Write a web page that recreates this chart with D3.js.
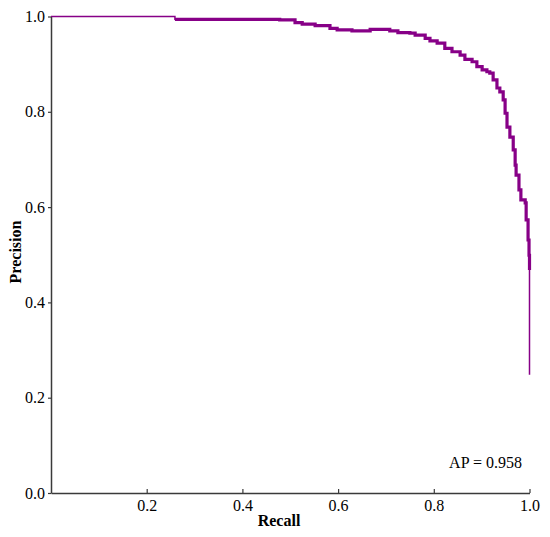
<!DOCTYPE html>
<html>
<head>
<meta charset="utf-8">
<script src="https://cdn.jsdelivr.net/npm/d3@7"></script>
<style>
  html, body { margin: 0; padding: 0; background: #fff; }
  svg { display: block; }
  text { font-family: "Liberation Serif", "Times New Roman", serif; }
</style>
</head>
<body>
<svg id="chart" width="550" height="537"></svg>
<script>
// ---- data ----
const recall = [0.000, 0.259, 0.478, 0.510, 0.525, 0.552, 0.583, 0.598, 0.629, 0.667,
                0.708, 0.725, 0.750, 0.761, 0.782, 0.792, 0.807, 0.823, 0.838, 0.855,
                0.865, 0.880, 0.890, 0.901, 0.911, 0.917, 0.924, 0.932, 0.938, 0.945,
                0.949, 0.953, 0.959, 0.966, 0.970, 0.972, 0.978, 0.982, 0.991, 0.993,
                0.997, 0.999, 1.000, 1.000];
const precision = [1.000, 0.994, 0.993, 0.987, 0.984, 0.981, 0.975, 0.972, 0.970, 0.973,
                   0.970, 0.966, 0.965, 0.961, 0.954, 0.949, 0.944, 0.933, 0.926, 0.919,
                   0.910, 0.905, 0.895, 0.888, 0.884, 0.881, 0.867, 0.850, 0.842, 0.825,
                   0.797, 0.768, 0.747, 0.720, 0.688, 0.667, 0.636, 0.615, 0.609, 0.573,
                   0.531, 0.499, 0.468, 0.248];
const xTicks = [0.2, 0.4, 0.6, 0.8, 1.0];
const yTicks = [0.0, 0.2, 0.4, 0.6, 0.8, 1.0];
const apLabel = "AP = 0.958";
const xLabel = "Recall";
const yLabel = "Precision";

// ---- layout ----
const svg = d3.select("#chart");
const x = d3.scaleLinear().domain([0, 1]).range([51, 529.5]);
const y = d3.scaleLinear().domain([0, 1]).range([493, 16.5]);
const color = "#870087";
const axisColor = "#3a3a3a";
const serif = '"Liberation Serif", "Times New Roman", serif';

const pts = recall.map((r, i) => [r, precision[i]]);
const line = d3.line().x(d => x(d[0])).y(d => y(d[1])).curve(d3.curveStepAfter);

// thin full curve
svg.append("path")
  .attr("d", line(pts))
  .attr("fill", "none")
  .attr("stroke", color)
  .attr("stroke-width", 1.5);

// thick middle (dense zigzag region)
svg.append("path")
  .attr("d", line(pts.slice(1, pts.length - 1)))
  .attr("fill", "none")
  .attr("stroke", color)
  .attr("stroke-width", 3.2);

// axes
const xAxis = d3.axisBottom(x).tickValues(xTicks).tickFormat(d3.format(".1f")).tickSizeInner(-4).tickSizeOuter(0).tickPadding(7);
const gx = svg.append("g").attr("transform", `translate(0,${y(0)})`).call(xAxis);
const yAxis = d3.axisLeft(y).tickValues(yTicks).tickFormat(d3.format(".1f")).tickSizeInner(3).tickSizeOuter(0).tickPadding(3);
const gy = svg.append("g").attr("transform", `translate(${x(0)},0)`).call(yAxis);

[gx, gy].forEach(g => {
  g.attr("font-family", serif).attr("font-size", 16);
  g.select(".domain").attr("stroke", axisColor).attr("stroke-width", 1.5);
  g.selectAll(".tick line").attr("stroke", axisColor).attr("stroke-width", 1.2);
  g.selectAll(".tick text")
    .attr("fill", "#000")
    .style("font-family", serif)
    .style("font-size", "16px");
});

// axis labels
svg.append("text")
  .attr("x", 279).attr("y", 526)
  .attr("text-anchor", "middle")
  .style("font-size", "16px").style("font-weight", "bold")
  .text(xLabel);

svg.append("text")
  .attr("transform", `translate(21,252) rotate(-90)`)
  .attr("text-anchor", "middle")
  .style("font-size", "16px").style("font-weight", "bold")
  .text(yLabel);

// AP annotation
svg.append("text")
  .attr("x", 522).attr("y", 468)
  .attr("text-anchor", "end")
  .style("font-size", "16px")
  .text(apLabel);
</script>
</body>
</html>
